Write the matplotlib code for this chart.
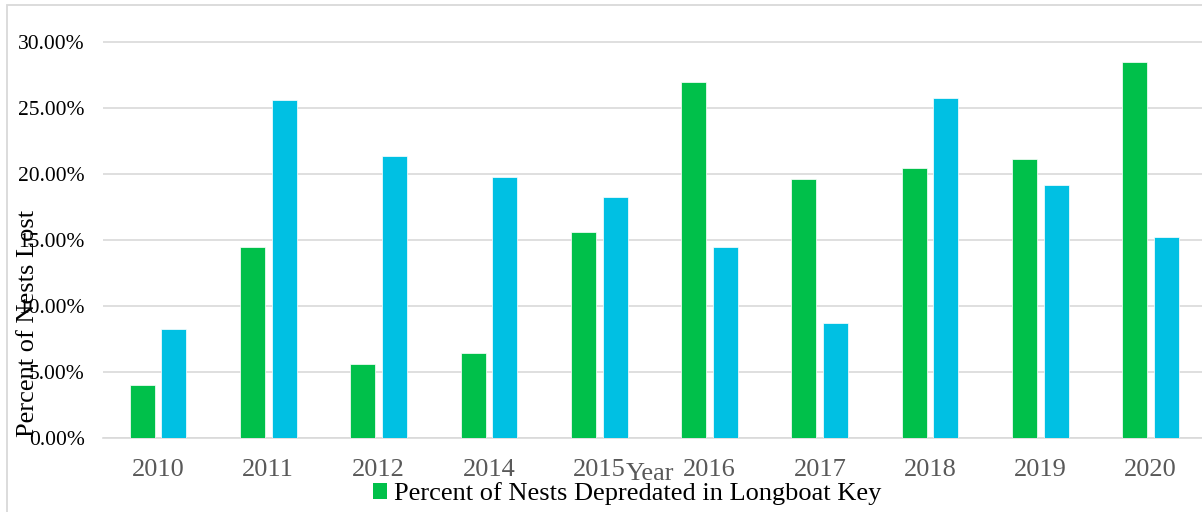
import matplotlib
matplotlib.use("Agg")
import matplotlib.pyplot as plt
from matplotlib.patches import Patch, Rectangle
from matplotlib.ticker import PercentFormatter
import numpy as np

years = ["2010", "2011", "2012", "2014", "2015", "2016", "2017", "2018", "2019", "2020"]
longboat_pct = [4.03, 14.49, 5.62, 6.43, 15.58, 26.97, 19.60, 20.42, 21.15, 28.44]
other_pct = [8.27, 25.61, 21.38, 19.77, 18.26, 14.47, 8.70, 25.76, 19.16, 15.23]
y_ticks = [0, 5, 10, 15, 20, 25, 30]

green = "#00C04A"
blue = "#00C0E3"
grid_gray = "#D9D9D9"
label_gray = "#595959"

plt.rcParams["font.family"] = ["Liberation Serif", "DejaVu Serif"]

W, H = 1202, 512
fig = plt.figure(figsize=(W / 100, H / 100), dpi=100)

# plot area: bottom at y=438.3 px, 13.22 px per percent, groups 110.3 px wide
px_per_pct = 13.22
y_top = 30.5
ax_bottom_px = 438.3
ax_top_px = ax_bottom_px - y_top * px_per_pct
ax_left_px, ax_right_px = 102.8, 1205.9
ax = fig.add_axes([ax_left_px / W, 1 - ax_bottom_px / H,
                   (ax_right_px - ax_left_px) / W, (ax_bottom_px - ax_top_px) / H])

x = np.arange(len(years))
bw = 0.2266
off = 0.1435
ax.bar(x - off, longboat_pct, bw, color=green, edgecolor="white", linewidth=0.5,
       label="Percent of Nests Depredated in Longboat Key", zorder=3)
ax.bar(x + off, other_pct, bw, color=blue, edgecolor="white", linewidth=0.5, zorder=3)

ax.set_xlim(-0.5, len(years) - 0.5)
ax.set_ylim(0, y_top)
ax.set_yticks(y_ticks)
ax.yaxis.set_major_formatter(PercentFormatter(decimals=2))
ax.set_xticks(x)
ax.set_xticklabels(years)

ax.grid(axis="y", color=grid_gray, linewidth=1.2, zorder=0)
for s in ["top", "right", "left"]:
    ax.spines[s].set_visible(False)
ax.spines["bottom"].set_color(grid_gray)
ax.spines["bottom"].set_linewidth(1.2)
ax.tick_params(axis="y", length=0, pad=13, labelsize=15.5, labelcolor="black")
ax.tick_params(axis="x", length=0, pad=15, labelsize=19, labelcolor=label_gray)

# axis titles
fig.text(28 / W, 1 - 323.5 / H, "Percent of Nests Lost", rotation=90,
         ha="center", va="center", fontsize=19, color="black")
fig.text(650 / W, 1 - 474 / H, "Year", ha="center", va="center",
         fontsize=19, color=label_gray)

handles = [Patch(facecolor=green, edgecolor="none")]
fig.legend(handles, ["Percent of Nests Depredated in Longboat Key"],
           loc="center", bbox_to_anchor=(627 / W, 1 - 494 / H),
           frameon=False, fontsize=19, handlelength=0.55, handleheight=0.55,
           handletextpad=0.25, borderpad=0, borderaxespad=0)

# chart border
fig.patches.append(Rectangle((7 / W, -0.1), 1.2, (1 - 5 / H) + 0.1,
                             transform=fig.transFigure, fill=False,
                             edgecolor=grid_gray, linewidth=1.3, zorder=0))

fig.savefig("out.png", dpi=100)
